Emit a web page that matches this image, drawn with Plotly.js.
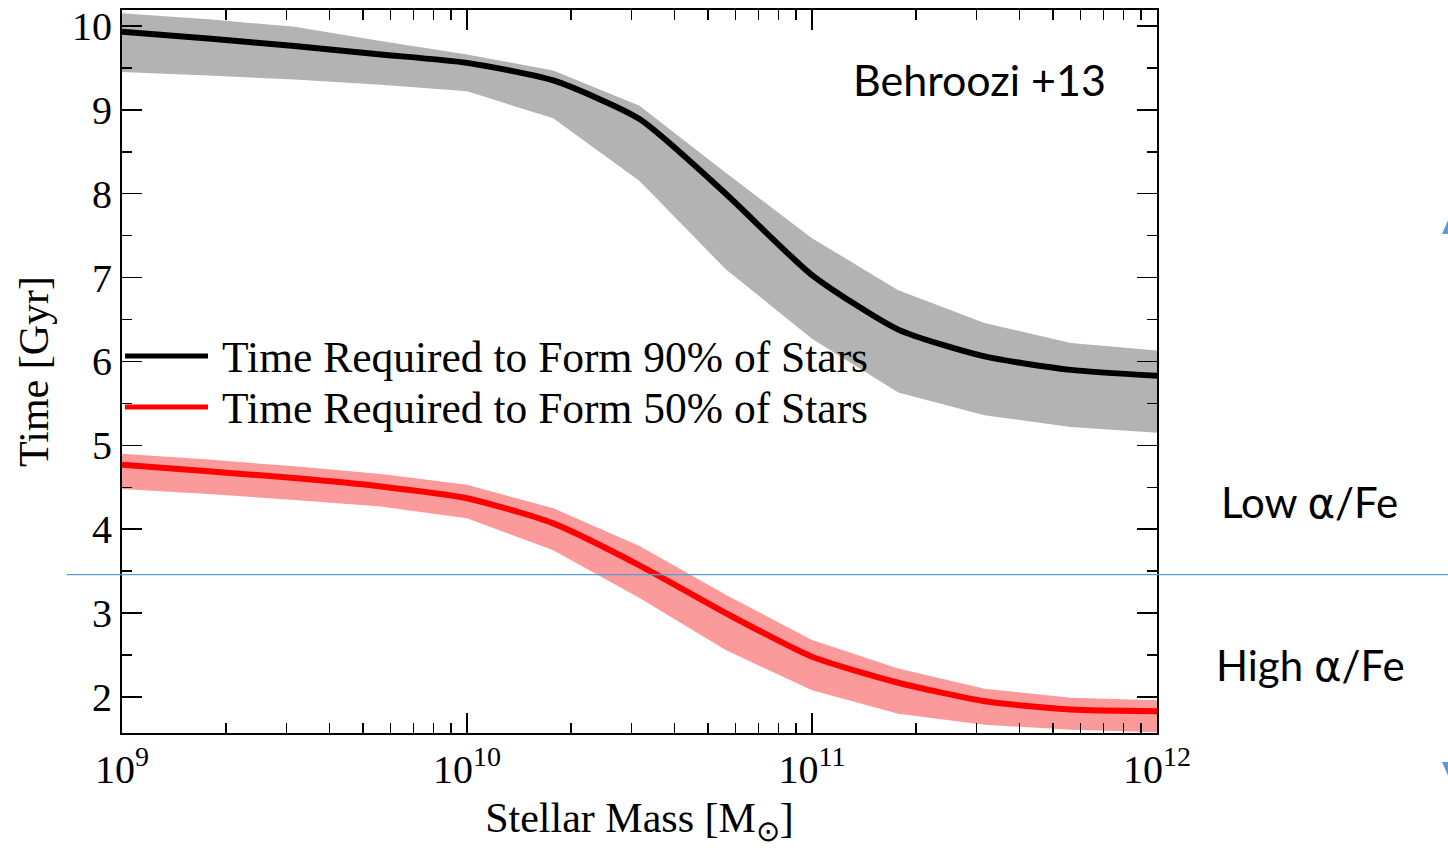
<!DOCTYPE html>
<html>
<head>
<meta charset="utf-8">
<script src="https://cdn.plot.ly/plotly-3.0.1.min.js"></script>
<style>
  html, body { margin: 0; padding: 0; background: #ffffff; }
  #chart { width: 1448px; height: 848px; }
</style>
</head>
<body>
<div id="chart"></div>
<script>
// log10 of stellar mass [Msun] at which the curves are sampled
const logMass = [9.0, 9.25, 9.5, 9.75, 10.0, 10.25, 10.5, 10.75, 11.0, 11.25, 11.5, 11.75, 12.0];

// time to form 90% of stars [Gyr]: median and band edges
const t90 = [9.93, 9.85, 9.76, 9.66, 9.56, 9.35, 8.89, 8.00, 7.03, 6.38, 6.06, 5.90, 5.83];
const t90Upper = [10.15, 10.08, 9.99, 9.82, 9.66, 9.47, 9.05, 8.25, 7.47, 6.85, 6.46, 6.22, 6.13];
const t90Lower = [9.45, 9.41, 9.36, 9.30, 9.22, 8.90, 8.15, 7.10, 6.27, 5.63, 5.36, 5.22, 5.15];

// time to form 50% of stars [Gyr]: median and band edges
const t50 = [4.77, 4.69, 4.61, 4.51, 4.37, 4.07, 3.57, 3.00, 2.48, 2.17, 1.95, 1.85, 1.83];
const t50Upper = [4.90, 4.83, 4.75, 4.66, 4.53, 4.25, 3.80, 3.22, 2.68, 2.34, 2.10, 1.99, 1.96];
const t50Lower = [4.48, 4.42, 4.35, 4.27, 4.13, 3.75, 3.18, 2.56, 2.08, 1.80, 1.67, 1.61, 1.58];

// axis ticks
const xTickVals = [1e9, 1e10, 1e11, 1e12];
const xTickText = ['10<sup>9</sup>', '10<sup>10</sup>', '10<sup>11</sup>', '10<sup>12</sup>'];
const yTickVals = [2, 3, 4, 5, 6, 7, 8, 9, 10];

// legend entries
const legendNames = ['Time Required to Form 90% of Stars', 'Time Required to Form 50% of Stars'];

// alpha/Fe divider level [Gyr]
const alphaSplit = 3.46;

const mass = logMass.map(v => Math.pow(10, v));
const serif = 'Liberation Serif, Times New Roman, serif';
const sans = 'Lato, Carlito, Open Sans, sans-serif';
const blue = '#5b9bd5';

function band(upper, lower, color) {
  return {
    x: mass.concat(mass.slice().reverse()),
    y: upper.concat(lower.slice().reverse()),
    type: 'scatter', mode: 'lines', fill: 'toself',
    fillcolor: color, line: {width: 0, color: color},
    hoverinfo: 'skip', showlegend: false
  };
}
function curve(y, color) {
  return {
    x: mass, y: y, type: 'scatter', mode: 'lines',
    line: {color: color, width: 6, shape: 'spline', smoothing: 0.6},
    showlegend: false
  };
}

const traces = [
  band(t90Upper, t90Lower, '#b3b3b3'),
  band(t50Upper, t50Lower, '#fa9a9a'),
  curve(t90, '#000000'),
  curve(t50, '#ff0000')
];

// minor tick positions on the log mass axis
const xMinor = [];
for (let d = 9; d < 12; d++) for (let k = 2; k <= 9; k++) xMinor.push(k * Math.pow(10, d));

// plot-area pixel helpers for legend / decoration placement (paper coords)
const L = 122, R = 1157, T = 10, B = 733;
const px = x => (x - L) / (R - L);
const py = y => (B - y) / (B - T);

const legendColors = ['#000000', '#ff0000'];
const legendY = [356, 407];

const shapes = [];
const annotations = [];
legendNames.forEach((name, i) => {
  shapes.push({type: 'line', xref: 'paper', yref: 'paper',
    x0: px(125), x1: px(208), y0: py(legendY[i]), y1: py(legendY[i]),
    line: {color: legendColors[i], width: 5}});
  annotations.push({xref: 'paper', yref: 'paper', x: px(220), y: py(legendY[i] + 1),
    xanchor: 'left', yanchor: 'middle', showarrow: false, text: name,
    font: {family: serif, size: 43.5, color: '#000'}});
});

// divider between high and low alpha/Fe
shapes.push({type: 'line', xref: 'paper', yref: 'y', x0: px(67), x1: px(1448),
  y0: alphaSplit, y1: alphaSplit, line: {color: blue, width: 1.3}, layer: 'above'});
// arrow heads at the right edge
shapes.push({type: 'path', xref: 'paper', yref: 'paper', fillcolor: blue, line: {width: 0},
  path: `M${px(1442)},${py(234)} L${px(1462)},${py(234)} L${px(1452)},${py(211)} Z`});
shapes.push({type: 'path', xref: 'paper', yref: 'paper', fillcolor: blue, line: {width: 0},
  path: `M${px(1442)},${py(762)} L${px(1462)},${py(762)} L${px(1452)},${py(785)} Z`});

const alpha = '<span style="font-family:DejaVu Sans">α</span>';
annotations.push({xref: 'paper', yref: 'paper', x: px(979), y: py(80), xanchor: 'center', yanchor: 'middle',
  showarrow: false, text: 'Behroozi +13', font: {family: sans, size: 43, color: '#000'}});
annotations.push({xref: 'paper', yref: 'paper', x: px(1309), y: py(502), xanchor: 'center', yanchor: 'middle',
  showarrow: false, text: 'Low ' + alpha + '/Fe', font: {family: sans, size: 42, color: '#000'}});
annotations.push({xref: 'paper', yref: 'paper', x: px(1310), y: py(665), xanchor: 'center', yanchor: 'middle',
  showarrow: false, text: 'High ' + alpha + '/Fe', font: {family: sans, size: 42, color: '#000'}});

const layout = {
  width: 1448, height: 848,
  margin: {l: L, r: 1448 - R, t: T, b: 848 - B},
  paper_bgcolor: '#ffffff', plot_bgcolor: '#ffffff',
  showlegend: false,
  xaxis: {
    type: 'log', range: [9, 12],
    tickmode: 'array', tickvals: xTickVals, ticktext: xTickText,
    ticks: 'inside', ticklen: 20, tickwidth: 1.5, tickcolor: '#000',
    minor: {tickmode: 'array', tickvals: xMinor, ticks: 'inside', ticklen: 10, tickwidth: 1.5, tickcolor: '#000'},
    showline: true, linecolor: '#000', linewidth: 2, mirror: 'ticks',
    showgrid: false, zeroline: false,
    tickfont: {family: serif, size: 40, color: '#000'},
    title: {text: 'Stellar Mass [M<sub>⊙</sub>]', font: {family: serif, size: 42, color: '#000'}, standoff: 12}
  },
  yaxis: {
    range: [1.571, 10.19],
    tickmode: 'array', tickvals: yTickVals,
    ticks: 'inside', ticklen: 20, tickwidth: 1.5, tickcolor: '#000',
    minor: {dtick: 0.5, ticks: 'inside', ticklen: 10, tickwidth: 1.5, tickcolor: '#000'},
    showline: true, linecolor: '#000', linewidth: 2, mirror: 'ticks',
    showgrid: false, zeroline: false,
    tickfont: {family: serif, size: 40, color: '#000'},
    title: {text: 'Time [Gyr]', font: {family: serif, size: 42, color: '#000'}, standoff: 10}
  },
  shapes: shapes,
  annotations: annotations
};

Plotly.newPlot('chart', traces, layout, {staticPlot: true, displayModeBar: false});
</script>
</body>
</html>
